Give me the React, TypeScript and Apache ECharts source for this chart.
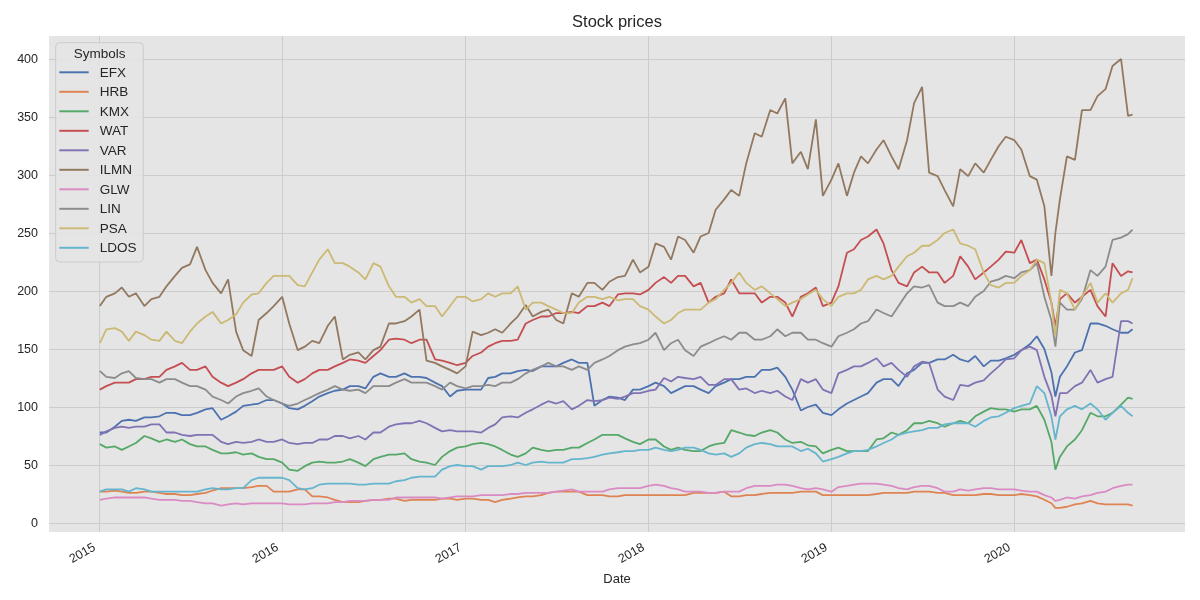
import React, { useEffect, useRef } from "react";
import * as echarts from "echarts";

const SYMBOLS = ["EFX", "HRB", "KMX", "WAT", "VAR", "ILMN", "GLW", "LIN", "PSA", "LDOS"];
const COLORS = ["#4c72b0", "#dd8452", "#55a868", "#c44e52", "#8172b3", "#937860", "#da8bc3", "#8c8c8c", "#ccb974", "#64b5cd"];

// Sampling dates: 1st and 15th of each month (first trading day 2015-01-02),
// extra point at the March 2020 low, last point 2020-08-24.
const DATES: number[] = [];
for (let y = 2015; y <= 2020; y++) {
  for (let m = 0; m < 12; m++) {
    if (y === 2020 && m > 7) continue;
    for (const d of [1, 15]) {
      DATES.push(new Date(y, m, y === 2015 && m === 0 && d === 1 ? 2 : d).getTime());
      if (y === 2020 && m === 2 && d === 15) DATES.push(new Date(2020, 2, 23).getTime());
    }
  }
}
DATES.push(new Date(2020, 7, 24).getTime());

const EFX = [
  78, 78, 83, 88, 89, 88, 91, 91, 92, 95, 95, 93, 93, 95, 98, 99, 89, 92, 96, 101, 102, 103, 106, 106,
  103, 99, 98, 101, 105, 109, 112, 114, 115, 118, 118, 116, 126, 129, 126, 126, 129, 126, 126, 125, 121, 118, 109, 114,
  115, 115, 115, 125, 126, 129, 129, 131, 132, 131, 135, 135, 135, 138, 141, 138, 138, 101, 106, 109, 108, 106, 115, 115,
  118, 121, 118, 112, 115, 118, 118, 115, 112, 118, 121, 124, 124, 126, 126, 132, 132, 134, 126, 115, 97, 100, 102, 95,
  93, 98, 103, 106, 109, 112, 121, 124, 124, 118, 129, 132, 138, 138, 141, 141, 145, 141, 139, 144, 135, 140, 140, 142,
  145, 149, 154, 161, 150, 130, 109, 126, 135, 147, 149, 172, 172, 170, 167, 164, 164, 167,
];
const HRB = [
  27, 27, 28, 27, 26, 26, 27, 27, 26, 25, 25, 24, 24, 25, 26, 28, 30, 30, 30, 30, 31, 32, 32, 27,
  27, 27, 29, 29, 23, 23, 22, 20, 18, 18, 18, 19, 20, 20, 21, 21, 19, 20, 20, 20, 20, 21, 21, 20,
  21, 21, 20, 20, 18, 20, 21, 22, 23, 23, 24, 26, 27, 27, 27, 27, 24, 24, 24, 23, 23, 24, 24, 24,
  24, 24, 24, 24, 24, 24, 26, 26, 26, 26, 27, 23, 23, 24, 24, 25, 26, 26, 26, 26, 27, 27, 27, 24,
  24, 24, 24, 24, 24, 24, 25, 26, 26, 26, 26, 27, 27, 27, 26, 26, 24, 24, 24, 24, 25, 25, 24, 24,
  24, 25, 24, 23, 20, 17, 13, 13, 14, 16, 17, 19, 17, 16, 16, 16, 16, 15,
];
const KMX = [
  68, 65, 66, 63, 66, 69, 75, 73, 70, 72, 70, 72, 68, 66, 66, 63, 60, 60, 61, 59, 60, 57, 55, 55,
  52, 46, 45, 49, 52, 53, 52, 52, 53, 55, 52, 49, 55, 57, 59, 59, 60, 55, 53, 52, 50, 57, 62, 65,
  66, 68, 69, 68, 66, 63, 59, 57, 60, 65, 63, 62, 63, 63, 65, 65, 69, 72, 76, 76, 76, 73, 70, 68,
  72, 72, 66, 63, 65, 63, 62, 62, 66, 68, 69, 80, 78, 76, 75, 78, 80, 78, 72, 69, 70, 67, 66, 60,
  63, 65, 62, 62, 62, 62, 72, 73, 78, 76, 80, 86, 86, 88, 86, 83, 86, 88, 86, 92, 96, 99, 98, 98,
  96, 98, 98, 101, 89, 70, 46, 57, 66, 72, 80, 95, 92, 92, 95, 102, 108, 107,
];
const WAT = [
  115, 118, 121, 121, 121, 124, 124, 126, 126, 132, 135, 138, 132, 132, 135, 126, 121, 118, 121, 124, 129, 132, 132, 132,
  135, 126, 121, 124, 129, 132, 132, 135, 138, 141, 140, 138, 144, 149, 158, 159, 158, 155, 158, 158, 141, 140, 138, 136,
  138, 144, 147, 152, 155, 157, 157, 158, 172, 175, 178, 178, 181, 181, 182, 181, 187, 187, 190, 187, 197, 198, 198, 197,
  201, 207, 212, 207, 213, 213, 204, 207, 190, 195, 198, 210, 198, 198, 198, 190, 195, 195, 190, 178, 195, 198, 203, 187,
  190, 204, 233, 236, 244, 247, 253, 241, 218, 207, 204, 216, 221, 216, 216, 207, 213, 230, 221, 210, 216, 221, 227, 234,
  233, 244, 224, 227, 210, 190, 170, 193, 198, 190, 195, 201, 187, 178, 224, 213, 217, 216,
];
const VAR = [
  76, 79, 82, 83, 82, 83, 83, 85, 85, 78, 78, 76, 75, 76, 76, 76, 70, 68, 70, 69, 70, 72, 70, 70,
  72, 69, 68, 69, 69, 72, 72, 75, 75, 73, 75, 72, 78, 78, 83, 85, 86, 86, 88, 86, 82, 79, 80, 79,
  79, 79, 78, 82, 85, 91, 92, 91, 95, 98, 102, 105, 103, 105, 98, 101, 106, 105, 106, 108, 107, 109, 112, 112,
  114, 115, 125, 122, 126, 125, 124, 126, 119, 119, 124, 124, 115, 116, 112, 114, 112, 114, 109, 106, 124, 121, 124, 115,
  112, 129, 132, 135, 135, 138, 142, 135, 138, 132, 126, 135, 139, 138, 115, 109, 106, 119, 118, 121, 123, 129, 135, 141,
  142, 149, 152, 149, 126, 110, 92, 112, 112, 118, 121, 132, 121, 124, 126, 174, 174, 172,
];
const ILMN = [
  187, 195, 198, 203, 195, 198, 187, 193, 195, 204, 213, 220, 223, 238, 218, 207, 198, 210, 165, 149, 144, 175, 181, 187,
  195, 172, 149, 152, 157, 155, 170, 178, 141, 145, 147, 141, 149, 152, 172, 172, 174, 178, 184, 140, 138, 135, 132, 129,
  135, 165, 162, 164, 167, 164, 172, 178, 188, 178, 182, 184, 175, 172, 198, 195, 207, 207, 201, 208, 212, 213, 227, 216,
  221, 241, 238, 227, 247, 244, 233, 247, 250, 270, 279, 287, 282, 310, 336, 333, 356, 353, 366, 310, 320, 305, 348, 282,
  296, 310, 282, 302, 316, 310, 322, 330, 316, 305, 330, 362, 376, 302, 299, 287, 273, 305, 299, 310, 302, 313, 325, 333,
  330, 322, 299, 296, 273, 213, 250, 279, 316, 313, 356, 356, 368, 374, 394, 400, 351, 352,
];
const GLW = [
  20, 21, 22, 22, 22, 22, 22, 21, 20, 20, 20, 19, 19, 18, 17, 17, 15, 16, 17, 16, 17, 17, 17, 17,
  17, 16, 16, 16, 17, 17, 17, 18, 18, 19, 19, 19, 20, 20, 20, 22, 22, 22, 22, 22, 22, 21, 22, 23,
  23, 23, 24, 24, 24, 24, 25, 25, 26, 26, 26, 26, 27, 28, 29, 27, 27, 27, 27, 29, 30, 30, 30, 30,
  32, 33, 32, 30, 29, 27, 27, 27, 26, 26, 27, 27, 27, 30, 32, 32, 32, 33, 33, 32, 30, 29, 30, 29,
  27, 31, 32, 33, 34, 34, 34, 33, 32, 30, 29, 31, 32, 32, 30, 27, 27, 29, 28, 29, 30, 30, 29, 29,
  29, 28, 27, 27, 24, 22, 19, 20, 22, 21, 23, 24, 26, 27, 30, 32, 33, 33,
];
const LIN = [
  131, 126, 125, 129, 131, 125, 124, 124, 121, 124, 124, 121, 118, 118, 115, 109, 106, 103, 109, 112, 114, 116, 109, 106,
  103, 101, 103, 106, 109, 112, 115, 118, 115, 114, 115, 112, 118, 118, 118, 121, 124, 121, 121, 121, 118, 115, 121, 118,
  116, 118, 118, 119, 118, 121, 121, 124, 129, 132, 135, 138, 135, 135, 132, 135, 132, 138, 141, 144, 149, 152, 154, 155,
  158, 164, 149, 155, 158, 149, 144, 152, 155, 158, 161, 158, 164, 164, 158, 158, 161, 167, 161, 164, 164, 158, 158, 155,
  152, 161, 164, 167, 172, 174, 184, 181, 178, 187, 198, 204, 203, 205, 190, 187, 187, 190, 187, 195, 200, 208, 210, 213,
  211, 216, 218, 224, 195, 175, 152, 190, 184, 184, 193, 218, 213, 221, 244, 246, 249, 253,
];
const PSA = [
  155, 167, 168, 165, 157, 165, 162, 158, 157, 165, 157, 155, 165, 172, 178, 182, 172, 175, 180, 190, 197, 198, 207, 213,
  213, 213, 205, 204, 216, 227, 236, 224, 224, 221, 216, 210, 224, 221, 204, 195, 195, 190, 193, 187, 187, 178, 187, 195,
  195, 191, 193, 198, 195, 198, 198, 204, 184, 190, 190, 187, 184, 181, 181, 190, 195, 195, 193, 195, 192, 193, 193, 187,
  184, 178, 172, 175, 181, 184, 184, 184, 190, 193, 201, 207, 216, 207, 201, 204, 198, 193, 187, 190, 193, 197, 201, 193,
  187, 195, 198, 198, 201, 210, 213, 210, 213, 221, 230, 233, 239, 239, 244, 250, 253, 241, 239, 236, 216, 205, 203, 207,
  207, 213, 218, 227, 224, 190, 162, 201, 198, 184, 195, 207, 190, 198, 190, 198, 201, 211,
];
const LDOS = [
  27, 29, 29, 29, 27, 30, 29, 27, 27, 27, 27, 27, 27, 27, 29, 30, 29, 29, 30, 30, 37, 39, 39, 39,
  39, 37, 30, 29, 30, 33, 34, 34, 34, 34, 33, 33, 34, 34, 34, 36, 37, 39, 40, 40, 40, 46, 49, 50,
  49, 49, 46, 49, 49, 49, 50, 52, 50, 52, 53, 52, 52, 52, 55, 55, 56, 57, 59, 60, 61, 62, 62, 63,
  63, 65, 63, 62, 63, 65, 65, 63, 60, 59, 60, 57, 60, 65, 68, 69, 68, 66, 66, 66, 62, 64, 60, 53,
  55, 57, 60, 62, 62, 63, 66, 69, 72, 76, 78, 79, 80, 82, 82, 85, 86, 86, 86, 83, 88, 91, 92, 95,
  99, 101, 103, 118, 112, 92, 72, 92, 98, 101, 98, 103, 98, 89, 95, 101, 95, 92,
];

const VALUES = [EFX, HRB, KMX, WAT, VAR, ILMN, GLW, LIN, PSA, LDOS];
const FONT = "'Liberation Sans', Arial, Helvetica, sans-serif";
const TEXT = "#262626";
const GRIDLINE = "#cccccc";

export default function App() {
  const ref = useRef<HTMLDivElement>(null);
  useEffect(() => {
    if (!ref.current) return;
    const chart = echarts.init(ref.current, undefined, { renderer: "svg" });
    const T2015 = new Date(2015, 0, 1).getTime();
    const T2020 = new Date(2020, 0, 1).getTime();
    const X2015 = 99.3;
    const YEARS_W = 915;
    const pxPerMs = YEARS_W / (T2020 - T2015);
    const PL = 49, PR = 1185, PT = 36, PB = 532;
    const Y0 = 523, Y400 = 59;
    const pxPerUnit = (Y0 - Y400) / 400;
    const xMin = T2015 - (X2015 - PL) / pxPerMs;
    const xMax = T2015 + (PR - X2015) / pxPerMs;
    const yMin = -(PB - Y0) / pxPerUnit;
    const yMax = 400 + (Y400 - PT) / pxPerUnit;

    const series = SYMBOLS.map((name, k) => ({
      name,
      type: "line",
      xAxisIndex: 0,
      yAxisIndex: 0,
      showSymbol: false,
      symbol: "none",
      color: COLORS[k],
      lineStyle: { width: 1.8, color: COLORS[k] },
      data: DATES.map((d, i) => [d, VALUES[k][i]]),
    }));

    chart.setOption({
      animation: false,
      grid: [
        { left: PL, top: PT, width: PR - PL, height: PB - PT, show: true, backgroundColor: "#e5e5e5", borderWidth: 0 },
        { left: X2015, top: PT, width: YEARS_W, height: PB - PT },
        { left: PL, top: Y400, width: PR - PL, height: Y0 - Y400 },
        { left: X2015 - 5, top: PT, width: YEARS_W, height: PB - PT },
      ],
      xAxis: [
        { gridIndex: 0, type: "time", min: xMin, max: xMax, show: false },
        {
          gridIndex: 1, type: "value", min: 2015, max: 2020, interval: 1,
          axisLine: { show: false }, axisTick: { show: false }, axisLabel: { show: false },
          splitLine: { show: true, lineStyle: { color: GRIDLINE, width: 1 } },
        },
        { gridIndex: 2, type: "value", min: 0, max: 1, show: false },
        {
          gridIndex: 3, type: "value", min: 2015, max: 2020, interval: 1,
          axisLine: { show: false }, axisTick: { show: false }, splitLine: { show: false },
          axisLabel: {
            rotate: 30, margin: 14, fontSize: 12.5, color: TEXT, fontFamily: FONT,
            formatter: (v: number) => String(v),
          },
        },
      ],
      yAxis: [
        { gridIndex: 0, type: "value", min: yMin, max: yMax, show: false },
        { gridIndex: 1, type: "value", min: 0, max: 1, show: false },
        {
          gridIndex: 2, type: "value", min: 0, max: 400, interval: 50,
          axisLine: { show: false }, axisTick: { show: false },
          splitLine: { show: true, lineStyle: { color: GRIDLINE, width: 1 } },
          axisLabel: { margin: 11, fontSize: 12.5, color: TEXT, fontFamily: FONT },
        },
        { gridIndex: 3, type: "value", min: 0, max: 1, show: false },
      ],
      legend: {
        data: SYMBOLS,
        orient: "vertical",
        left: 59.3,
        top: 65.3,
        padding: 0,
        icon: "path://M0,0H30V2H0Z",
        itemWidth: 29.4,
        itemHeight: 14,
        itemGap: 5.5,
        selectedMode: false,
        z: 6,
        textStyle: { fontSize: 13.5, color: TEXT, fontFamily: FONT, lineHeight: 14, padding: [0, 0, 0, 6] },
      },
      graphic: [
        {
          type: "text", x: 617, y: 21, z: 10,
          style: { text: "Stock prices", fill: TEXT, fontSize: 16.5, fontFamily: FONT, align: "center", verticalAlign: "middle", textAlign: "center", textVerticalAlign: "middle" },
        },
        {
          type: "text", x: 617, y: 578, z: 10,
          style: { text: "Date", fill: TEXT, fontSize: 13, fontFamily: FONT, align: "center", verticalAlign: "middle", textAlign: "center", textVerticalAlign: "middle" },
        },
        {
          type: "rect", z: 5,
          shape: { x: 55.7, y: 42.7, width: 87.6, height: 219.3, r: 4 },
          style: { fill: "rgba(229,229,229,0.85)", stroke: "#cccccc", lineWidth: 1 },
        },
        {
          type: "text", x: 99.5, y: 53, z: 7,
          style: { text: "Symbols", fill: TEXT, fontSize: 13.5, fontFamily: FONT, align: "center", verticalAlign: "middle", textAlign: "center", textVerticalAlign: "middle" },
        },
      ],
      series,
    });
    return () => chart.dispose();
  }, []);
  return <div ref={ref} style={{ position: "fixed", left: 0, top: 0, width: 1200, height: 600 }} />;
}
